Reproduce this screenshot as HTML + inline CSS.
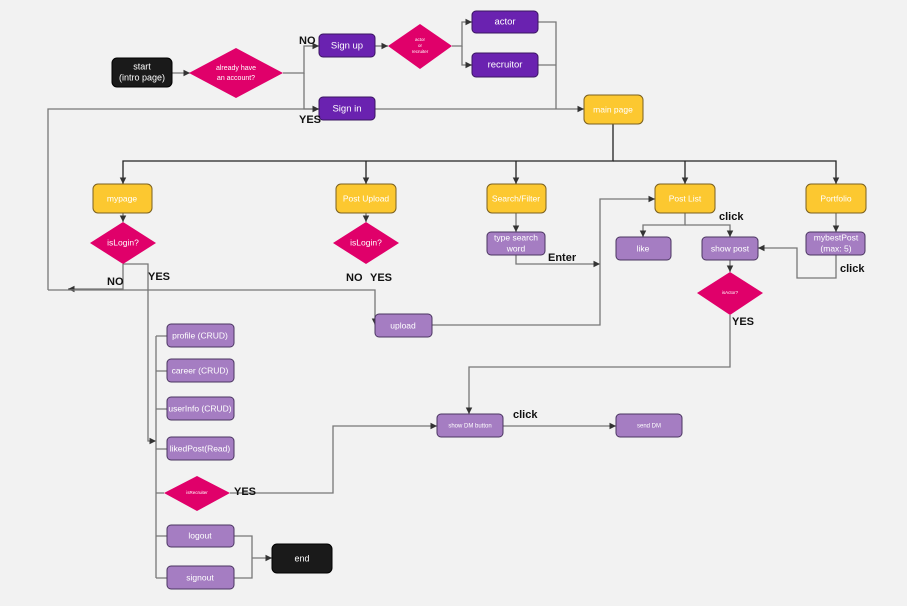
<!DOCTYPE html>
<html><head><meta charset="utf-8"><style>
html,body{margin:0;padding:0;background:#f2f2f2;}
svg{display:block;font-family:"Liberation Sans",sans-serif;}
.w{fill:#fff;font-size:8.5px;text-anchor:middle;dominant-baseline:middle;}
.l{fill:#111;font-size:11px;font-weight:bold;}
.ln{stroke:#777;stroke-width:1.3;fill:none;}
.dk{stroke:#222;stroke-width:1.3;fill:none;}
.p{fill:#6a22b0;stroke:#3a1560;stroke-width:1;}
.lp{fill:#a57dc2;stroke:#4a3560;stroke-width:1;}
.y{fill:#fcc830;stroke:#7a6020;stroke-width:1;}
.k{fill:#1a1a1a;stroke:#000;}
.d{fill:#e0006a;}
</style></head><body>
<svg width="907" height="606" viewBox="0 0 907 606">
<defs><marker id="a" markerWidth="6" markerHeight="6" refX="5" refY="3" orient="auto"><path d="M0,0.5 L5,3 L0,5.5z" fill="#333"/></marker></defs>
<!-- connectors -->
<g class="ln" marker-end="url(#a)">
<path d="M172,73 H190"/>
<path d="M283,73 H304 V46 H319"/>
<path d="M304,73 V109 H319"/>
<path d="M375,46 H388"/>
<path d="M452,46 H462 V22 H472"/>
<path d="M462,46 V65 H472"/>
<path d="M375,109 H584"/>
<path d="M48,290 V109 H319"/>
<path d="M123,213 V222"/>
<path d="M366,213 V222"/>
<path d="M123,264 V289 H68"/>
<path d="M123,264 H148 V441 H156"/>
<path d="M48,290 H375 V325"/>
<path d="M516,213 V232"/>
<path d="M516,255 V264 H600"/>
<path d="M432,325 H600 V199 H655"/>
<path d="M685,213 V225 H643 V237"/>
<path d="M685,225 H730 V237"/>
<path d="M730,260 V272"/>
<path d="M836,213 V232"/>
<path d="M836,255 V278 H797 V248 H758"/>
<path d="M730,315 V367 H469 V414"/>
<path d="M230,493 H333 V426 H437"/>
<path d="M503,426 H616"/>
<path d="M234,536 H252 V578 H234 M252,558 H272"/>
</g>
<g class="ln">
<path d="M538,22 H556 V109 M538,65 H556"/>
<path d="M156,336 V578 M156,336 H167 M156,371 H167 M156,409 H167 M156,449 H167 M156,493 H164 M156,536 H167 M156,578 H167"/>
</g>
<g class="dk" marker-end="url(#a)">
<path d="M613,124 V161 H123 V184"/>
<path d="M366,161 V184"/>
<path d="M613,161 H836 V184"/>
<path d="M516,161 V184"/>
<path d="M685,161 V184"/>
</g>
<!-- nodes -->
<rect x="112" y="58" width="60" height="29" rx="5" class="k"/><text class="w" x="142" y="67" style="font-size:9px">start</text><text class="w" x="142" y="78" style="font-size:9px">(intro page)</text>
<polygon class="d" points="189,73 236,48 283,73 236,98"/><text class="w" x="236" y="68" style="font-size:7px">already have</text><text class="w" x="236" y="78" style="font-size:7px">an account?</text>
<rect x="319" y="34" width="56" height="23" rx="4" class="p"/><text class="w" x="347" y="46" style="font-size:9.5px">Sign up</text>
<rect x="319" y="97" width="56" height="23" rx="4" class="p"/><text class="w" x="347" y="109" style="font-size:9.5px">Sign in</text>
<polygon class="d" points="388,46 420,24 452,46 420,69"/><text class="w" x="420" y="40" style="font-size:4.5px">actor</text><text class="w" x="420" y="46" style="font-size:4.5px">or</text><text class="w" x="420" y="52" style="font-size:4.5px">recruiter</text>
<rect x="472" y="11" width="66" height="22" rx="4" class="p"/><text class="w" x="505" y="22" style="font-size:9.5px">actor</text>
<rect x="472" y="53" width="66" height="24" rx="4" class="p"/><text class="w" x="505" y="65" style="font-size:9.5px">recruitor</text>
<rect x="584" y="95" width="59" height="29" rx="5" class="y"/><text class="w" x="613" y="110">main page</text>
<rect x="93" y="184" width="59" height="29" rx="5" class="y"/><text class="w" x="122" y="199">mypage</text>
<rect x="336" y="184" width="60" height="29" rx="5" class="y"/><text class="w" x="366" y="199">Post Upload</text>
<rect x="487" y="184" width="59" height="29" rx="5" class="y"/><text class="w" x="516" y="199">Search/Filter</text>
<rect x="655" y="184" width="60" height="29" rx="5" class="y"/><text class="w" x="685" y="199">Post List</text>
<rect x="806" y="184" width="60" height="29" rx="5" class="y"/><text class="w" x="836" y="199">Portfolio</text>
<polygon class="d" points="90,243 123,222 156,243 123,264"/><text class="w" x="123" y="243">isLogin?</text>
<polygon class="d" points="333,243 366,222 399,243 366,264"/><text class="w" x="366" y="243">isLogin?</text>
<rect x="487" y="232" width="58" height="23" rx="4" class="lp"/><text class="w" x="516" y="238">type search</text><text class="w" x="516" y="249">word</text>
<rect x="616" y="237" width="55" height="23" rx="4" class="lp"/><text class="w" x="643" y="249">like</text>
<rect x="702" y="237" width="56" height="23" rx="4" class="lp"/><text class="w" x="730" y="249">show post</text>
<rect x="806" y="232" width="59" height="23" rx="4" class="lp"/><text class="w" x="836" y="238">mybestPost</text><text class="w" x="836" y="249">(max: 5)</text>
<polygon class="d" points="697,293 730,272 763,293 730,315"/><text class="w" x="730" y="293" style="font-size:4.5px">isActor?</text>
<rect x="375" y="314" width="57" height="23" rx="4" class="lp"/><text class="w" x="403" y="326">upload</text>
<rect x="167" y="324" width="67" height="23" rx="4" class="lp"/><text class="w" x="200" y="336">profile (CRUD)</text>
<rect x="167" y="359" width="67" height="23" rx="4" class="lp"/><text class="w" x="200" y="371">career (CRUD)</text>
<rect x="167" y="397" width="67" height="23" rx="4" class="lp"/><text class="w" x="200" y="409">userInfo (CRUD)</text>
<rect x="167" y="437" width="67" height="23" rx="4" class="lp"/><text class="w" x="200" y="449">likedPost(Read)</text>
<polygon class="d" points="164,493 197,476 230,493 197,511"/><text class="w" x="197" y="493" style="font-size:4.5px">isRecruiter</text>
<rect x="167" y="525" width="67" height="22" rx="4" class="lp"/><text class="w" x="200" y="536">logout</text>
<rect x="167" y="566" width="67" height="23" rx="4" class="lp"/><text class="w" x="200" y="578">signout</text>
<rect x="272" y="544" width="60" height="29" rx="5" class="k"/><text class="w" x="302" y="559" style="font-size:9px">end</text>
<rect x="437" y="414" width="66" height="23" rx="4" class="lp"/><text class="w" x="470" y="426" style="font-size:6px">show DM button</text>
<rect x="616" y="414" width="66" height="23" rx="4" class="lp"/><text class="w" x="649" y="426" style="font-size:6px">send DM</text>
<!-- labels -->
<text class="l" x="299" y="44">NO</text>
<text class="l" x="299" y="123">YES</text>
<text class="l" x="107" y="285">NO</text>
<text class="l" x="148" y="280">YES</text>
<text class="l" x="346" y="281">NO</text>
<text class="l" x="370" y="281">YES</text>
<text class="l" x="548" y="261">Enter</text>
<text class="l" x="719" y="220">click</text>
<text class="l" x="840" y="272">click</text>
<text class="l" x="732" y="325">YES</text>
<text class="l" x="234" y="495">YES</text>
<text class="l" x="513" y="418">click</text>
</svg>
</body></html>
